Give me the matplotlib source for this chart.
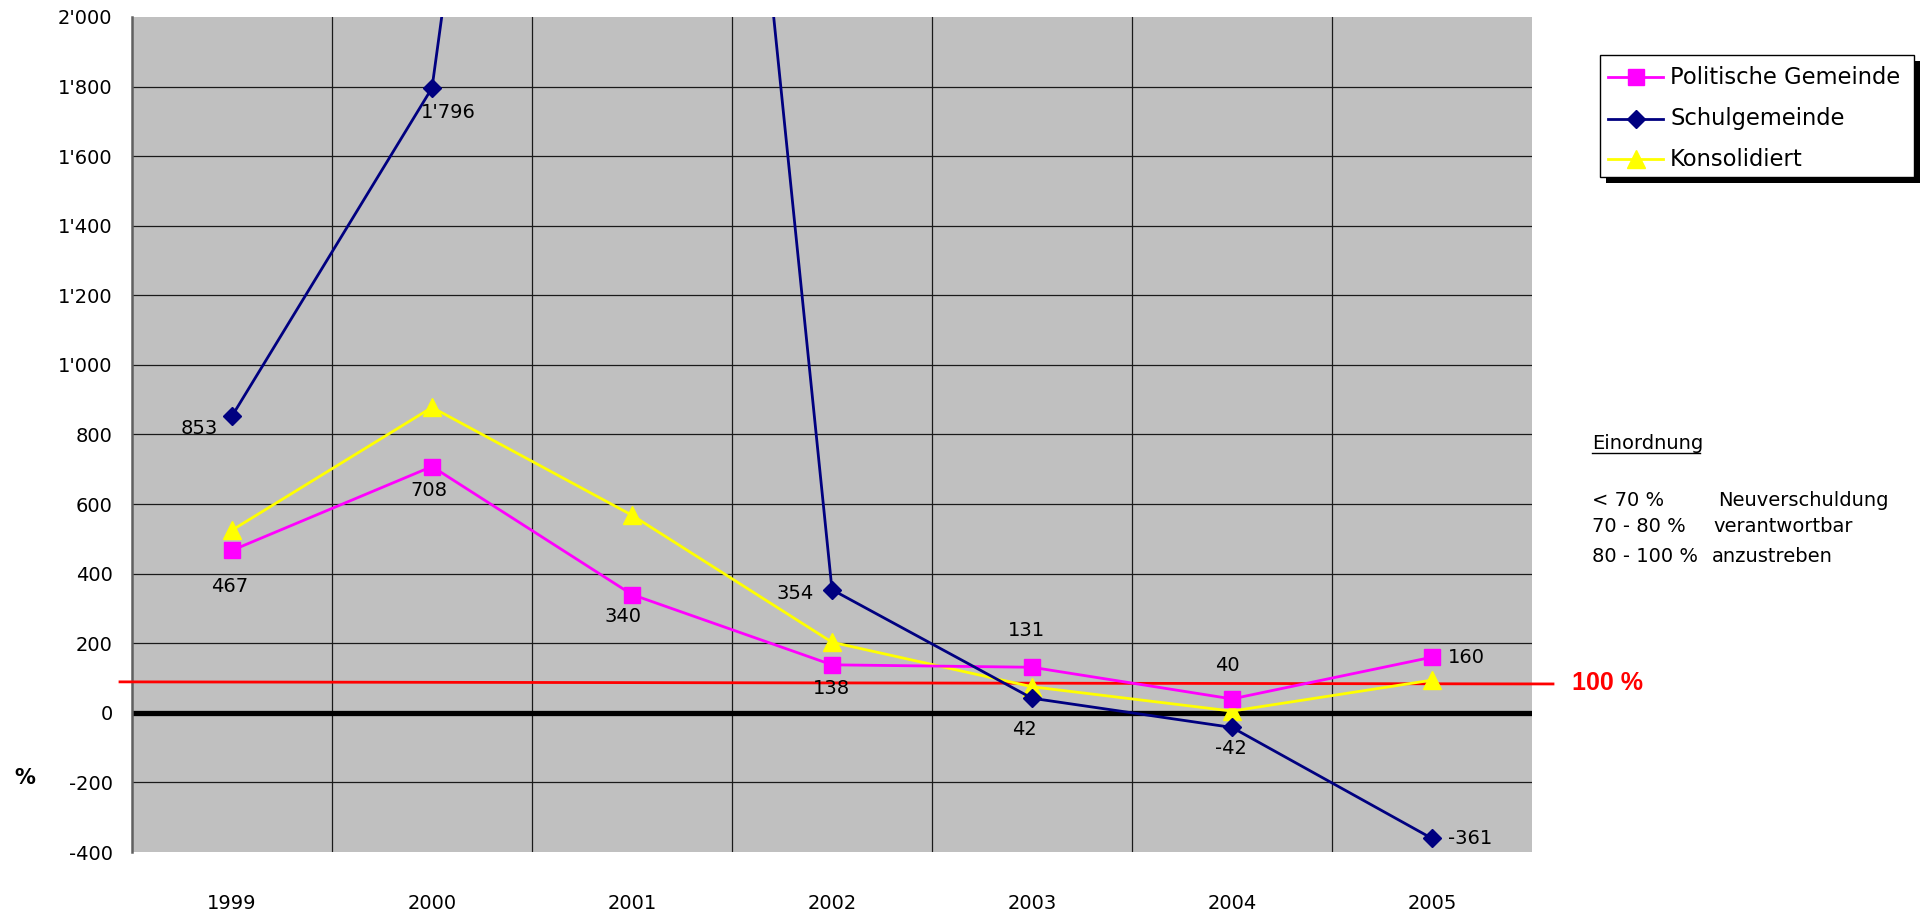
import matplotlib
matplotlib.use("Agg")
import matplotlib.pyplot as plt
from matplotlib.patches import Rectangle
from matplotlib.lines import Line2D

years = ["1999", "2000", "2001", "2002", "2003", "2004", "2005"]
politische = [467, 708, 340, 138, 131, 40, 160]
schul = [853, 1796, 6000, 354, 42, -42, -361]
konsolidiert = [525, 878, 568, 203, 75, 5, 94]
yticks = [-400, -200, 0, 200, 400, 600, 800, 1000, 1200, 1400, 1600, 1800, 2000]
ytick_labels = ["-400", "-200", "0", "200", "400", "600", "800", "1'000", "1'200",
                "1'400", "1'600", "1'800", "2'000"]
pol_labels = ["467", "708", "340", "138", "131", "40", "160"]
schul_labels = ["853", "1'796", None, "354", "42", "-42", "-361"]
ref_line = [89, 83]  # "100 %" marker line, left/right

plt.rcParams['font.family'] = ['DejaVu Sans']

W, H = 1927, 915
fig = plt.figure(figsize=(W / 100, H / 100), dpi=100)
ax_l, ax_r, ax_t, ax_b = 132, 1532, 17, 852
ax = fig.add_axes([ax_l / W, 1 - ax_b / H, (ax_r - ax_l) / W, (ax_b - ax_t) / H])
ax.set_facecolor('#C0C0C0')
x = list(range(len(years)))
ax.set_xlim(-0.5, 6.5)
ax.set_ylim(-400, 2000)

# grid
for yv in yticks[1:-1]:
    ax.axhline(yv, color='#1a1a1a', lw=0.9, zorder=1)
for xv in [0.5, 1.5, 2.5, 3.5, 4.5, 5.5]:
    ax.axvline(xv, color='#1a1a1a', lw=0.9, zorder=1)
ax.axhline(0, color='black', lw=3.8, zorder=2)

for s in ['top', 'right', 'bottom']:
    ax.spines[s].set_visible(False)
ax.spines['left'].set_color('#606060')
ax.spines['left'].set_linewidth(1.8)

FS = 14
ax.set_yticks(yticks)
ax.set_yticklabels(ytick_labels, fontsize=FS)
ax.set_xticks(x)
ax.set_xticklabels(years, fontsize=FS)
ax.tick_params(axis='y', length=0, pad=14)
ax.tick_params(axis='x', length=0, pad=30)

# reference line (100 %)
px2x = lambda px: (px - ax_l) / 200.0 - 0.5
ax.plot([px2x(120), px2x(1553)], ref_line, color='#FF0000', lw=2.0, clip_on=False, zorder=3)

LW = 2.0
l1, = ax.plot(x, politische, color='#FF00FF', lw=LW, marker='s', markersize=12,
              markeredgecolor='#FF00FF', zorder=5, label='Politische Gemeinde')
l2, = ax.plot(x, schul, color='#000080', lw=LW, marker='D', markersize=9,
              zorder=6, label='Schulgemeinde')
l3, = ax.plot(x, konsolidiert, color='#FFFF00', lw=LW, marker='^', markersize=13,
              zorder=4, label='Konsolidiert')

# data labels (offset pixels)
pol_off = [(-2, -36), (-3, -24), (-9, -22), (-1, -24), (-6, 37), (-5, 33), (None, None)]
for i, (lab, off) in enumerate(zip(pol_labels, pol_off)):
    if off[0] is None:
        ax.annotate(lab, (x[i], politische[i]), xytext=(16, 0), textcoords='offset pixels',
                    ha='left', va='center', fontsize=FS, zorder=7)
    else:
        ax.annotate(lab, (x[i], politische[i]), xytext=off, textcoords='offset pixels',
                    ha='center', va='center', fontsize=FS, zorder=7)

schul_off = {0: (-14, -12, 'right'), 1: (16, -25, 'center'), 3: (-18, -4, 'right'),
             4: (-8, -31, 'center'), 5: (-1, -21, 'center'), 6: (16, 0, 'left')}
for i, lab in enumerate(schul_labels):
    if lab is None:
        continue
    dx, dy, ha = schul_off[i]
    ax.annotate(lab, (x[i], schul[i]), xytext=(dx, dy), textcoords='offset pixels',
                ha=ha, va='center', fontsize=FS, zorder=7)

# "%" axis label
fig.text(25 / W, 1 - 778 / H, '%', fontsize=15, fontweight='bold', ha='center', va='center')

# legend with shadow
lx0, ly0, lx1, ly1 = 1600, 55, 1914, 177
shadow = Rectangle(((lx0 + 6) / W, 1 - (ly1 + 6) / H), (lx1 - lx0) / W, (ly1 - ly0) / H,
                   transform=fig.transFigure, facecolor='black', edgecolor='none', zorder=1)
fig.patches.append(shadow)
box = Rectangle((lx0 / W, 1 - ly1 / H), (lx1 - lx0) / W, (ly1 - ly0) / H,
                transform=fig.transFigure, facecolor='white', edgecolor='black', lw=1.0, zorder=2)
fig.patches.append(box)
rows = [77, 119, 159]
for ln, ry in zip([l1, l2, l3], rows):
    yf = 1 - ry / H
    fig.add_artist(Line2D([1608 / W, 1663 / W], [yf, yf], transform=fig.transFigure,
                          color=ln.get_color(), lw=LW, zorder=3))
    fig.add_artist(Line2D([1635.5 / W], [yf], transform=fig.transFigure, color=ln.get_color(),
                          marker=ln.get_marker(), markersize=ln.get_markersize(),
                          markeredgecolor=ln.get_markeredgecolor(), linestyle='none', zorder=4))
    fig.text(1670 / W, yf, ln.get_label(), fontsize=16.3, ha='left', va='center', zorder=5)

# Einordnung block
fig.text(1592 / W, 1 - 443 / H, 'Einordnung', fontsize=FS, ha='left', va='center')
fig.add_artist(Line2D([1592 / W, 1700 / W], [1 - 453 / H, 1 - 453 / H], transform=fig.transFigure,
                      color='black', lw=1.0))
ein_left = ['< 70 %', '70 - 80 %', '80 - 100 %']
ein_right = ['Neuverschuldung', 'verantwortbar', 'anzustreben']
ein_rx = [1718, 1713, 1712]
for yy, a, b, bx in zip([500, 527, 556], ein_left, ein_right, ein_rx):
    fig.text(1592 / W, 1 - yy / H, a, fontsize=FS, ha='left', va='center')
    fig.text(bx / W, 1 - yy / H, b, fontsize=FS, ha='left', va='center')

fig.text(1572 / W, 1 - 683 / H, '100 %', fontsize=18, fontweight='bold', color='#FF0000',
         family=['Liberation Sans', 'DejaVu Sans'], ha='left', va='center')

fig.savefig('out.png', dpi=100, facecolor='white')
